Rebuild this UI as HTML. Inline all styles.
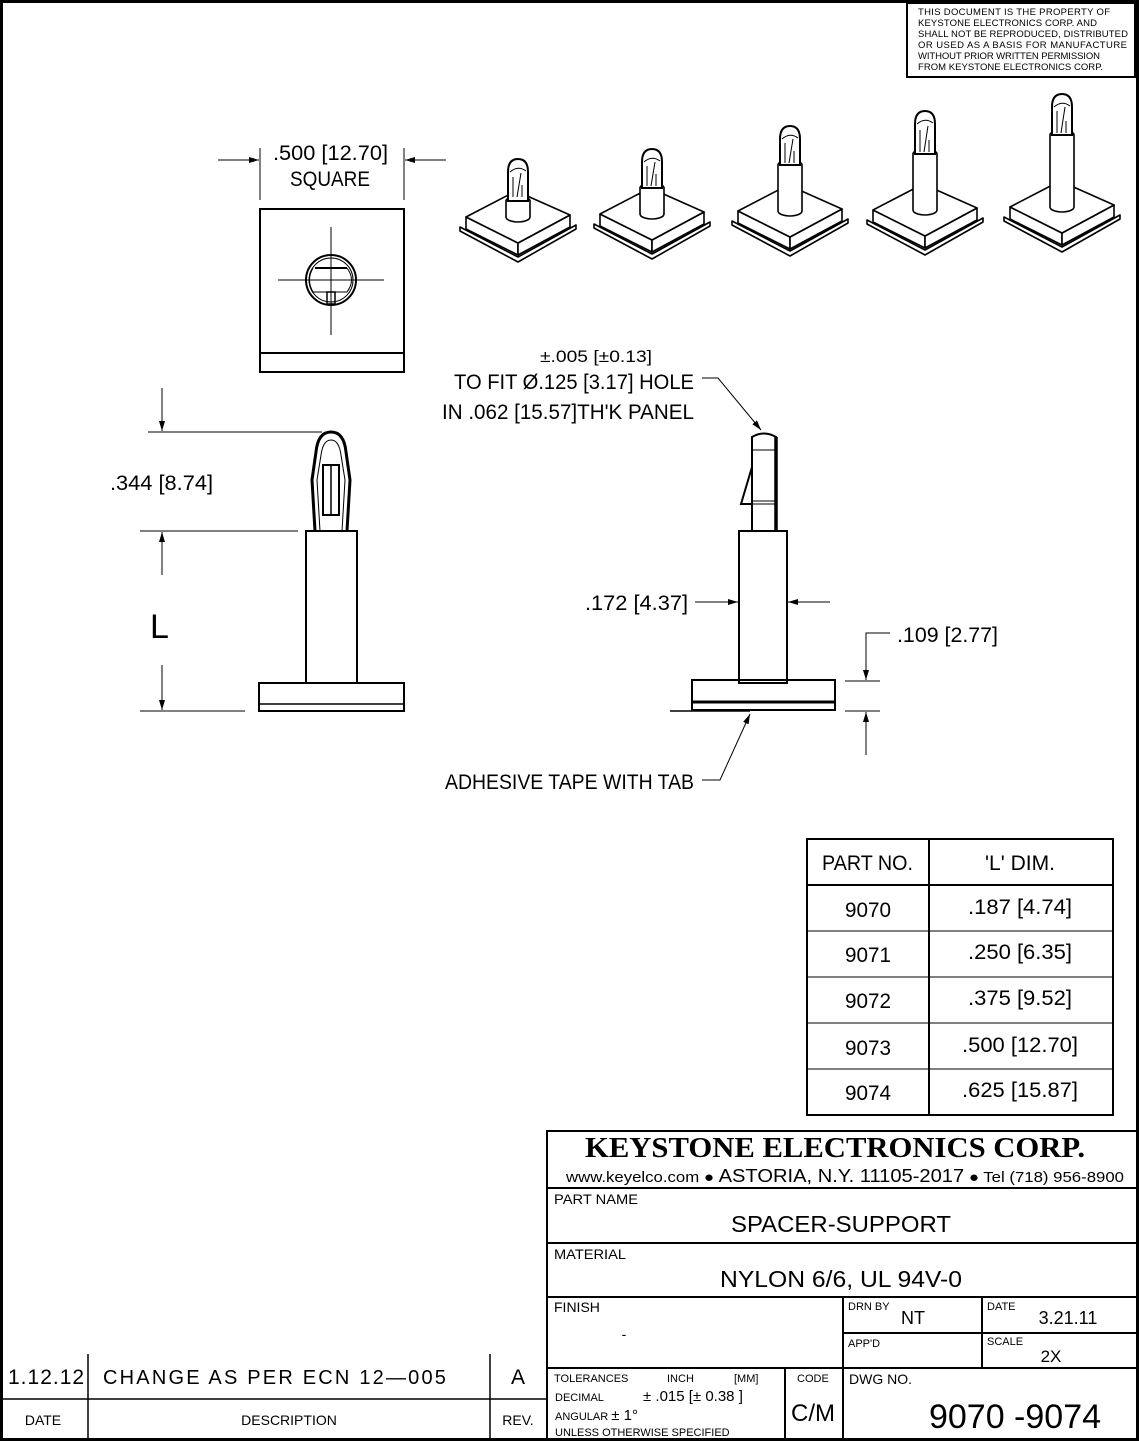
<!DOCTYPE html>
<html><head><meta charset="utf-8"><style>
html,body{margin:0;padding:0;background:#fff}
svg{display:block}
text{font-family:"Liberation Sans",sans-serif;fill:#000}
</style></head><body>
<svg width="1139" height="1441" viewBox="0 0 1139 1441" xmlns="http://www.w3.org/2000/svg">
<defs>
<marker id="ar" viewBox="0 0 10 10" refX="10" refY="5" markerWidth="10" markerHeight="10" markerUnits="userSpaceOnUse" orient="auto"><path d="M0,2 L10,5 L0,8 z" fill="#000"/></marker>
<g id="base" fill="#fff" stroke="#000" stroke-width="1.6" stroke-linejoin="round">
<polygon points="-6,10 52,40 110,8 110,12 52,45 -6,14"/>
<polygon points="0,0 52,26 52,38 0,12"/>
<polygon points="52,26 104,-2 104,10 52,38"/>
<polygon points="0,0 50,-26 104,-2 52,26"/>
</g>
</defs>
<rect x="1.5" y="1.5" width="1136" height="1438" fill="none" stroke="#000" stroke-width="3"/>
<!-- notice -->
<rect x="907" y="3" width="228" height="74" fill="none" stroke="#000" stroke-width="2"/>
<g font-size="9.5">
<text x="918" y="15" textLength="192" lengthAdjust="spacing">THIS DOCUMENT IS THE PROPERTY OF</text>
<text x="918" y="26" textLength="179" lengthAdjust="spacing">KEYSTONE ELECTRONICS CORP. AND</text>
<text x="918" y="37" textLength="210" lengthAdjust="spacing">SHALL NOT BE REPRODUCED, DISTRIBUTED</text>
<text x="918" y="48" textLength="209" lengthAdjust="spacing">OR USED AS A BASIS FOR MANUFACTURE</text>
<text x="918" y="59" textLength="182" lengthAdjust="spacing">WITHOUT PRIOR WRITTEN PERMISSION</text>
<text x="918" y="70" textLength="185" lengthAdjust="spacing">FROM KEYSTONE ELECTRONICS CORP.</text>
</g>
<!-- top view -->
<g stroke="#000" fill="none">
<line x1="260" y1="148" x2="260" y2="200" stroke-width="1"/>
<line x1="404" y1="148" x2="404" y2="200" stroke-width="1"/>
<line x1="218" y1="160" x2="259" y2="160" stroke-width="1" marker-end="url(#ar)"/>
<line x1="446" y1="160" x2="405" y2="160" stroke-width="1" marker-end="url(#ar)"/>
<rect x="260" y="209" width="144" height="163" stroke-width="2"/>
<line x1="260" y1="353" x2="404" y2="353" stroke-width="2"/>
<circle cx="331" cy="280" r="25" stroke-width="2"/>
<circle cx="331" cy="280" r="22" stroke-width="1"/>
<line x1="315" y1="268" x2="347" y2="268" stroke-width="2"/>
<path d="M313,268 Q306,280 313,292 L347,292 Q356,280 347,268" stroke-width="1"/>
<rect x="327" y="292" width="8" height="12" stroke-width="1.5"/>
<line x1="278" y1="280" x2="384" y2="280" stroke-width="1"/>
<line x1="331" y1="227" x2="331" y2="335" stroke-width="1"/>
</g>
<text x="273" y="160" font-size="21" textLength="115" lengthAdjust="spacingAndGlyphs">.500 [12.70]</text>
<text x="290" y="186" font-size="21" textLength="80" lengthAdjust="spacingAndGlyphs">SQUARE</text>
<!-- iso views -->
<g stroke="#000" stroke-width="1.6" fill="#fff">
<g transform="translate(466,217)"><use href="#base"/>
<path d="M40,0 L40,-16 A12,5 0 0 1 64,-16 L64,0 A12,5 0 0 1 40,0 Z"/>
<path d="M42,-16 L42,-45 Q42,-58 52,-58 Q62,-58 62,-45 L62,-16 Z" stroke-width="2"/>
<path d="M47,-20 L47,-40 M51,-20 L55,-44 M56,-20 L56,-32 M44,-45 Q52,-52 60,-46" fill="none" stroke-width="1"/></g>
<g transform="translate(600,214)"><use href="#base"/>
<path d="M40,0 L40,-26 A12,5 0 0 1 64,-26 L64,0 A12,5 0 0 1 40,0 Z"/>
<path d="M42,-26 L42,-52 Q42,-65 52,-65 Q62,-65 62,-52 L62,-26 Z" stroke-width="2"/>
<path d="M47,-28 L47,-48 M51,-28 L55,-52 M56,-28 L56,-40 M44,-52 Q52,-59 60,-53" fill="none" stroke-width="1"/></g>
<g transform="translate(738,211)"><use href="#base"/>
<path d="M40,0 L40,-46 A12,5 0 0 1 64,-46 L64,0 A12,5 0 0 1 40,0 Z"/>
<path d="M42,-46 L42,-72 Q42,-85 52,-85 Q62,-85 62,-72 L62,-46 Z" stroke-width="2"/>
<path d="M47,-48 L47,-68 M51,-48 L55,-72 M56,-48 L56,-60 M44,-72 Q52,-79 60,-73" fill="none" stroke-width="1"/></g>
<g transform="translate(873,210)"><use href="#base"/>
<path d="M40,0 L40,-56 A12,5 0 0 1 64,-56 L64,0 A12,5 0 0 1 40,0 Z"/>
<path d="M42,-56 L42,-86 Q42,-99 52,-99 Q62,-99 62,-86 L62,-56 Z" stroke-width="2"/>
<path d="M47,-58 L47,-80 M51,-58 L55,-84 M56,-58 L56,-70 M44,-86 Q52,-93 60,-87" fill="none" stroke-width="1"/></g>
<g transform="translate(1010,207)"><use href="#base"/>
<path d="M40,0 L40,-72 A12,5 0 0 1 64,-72 L64,0 A12,5 0 0 1 40,0 Z"/>
<path d="M42,-72 L42,-100 Q42,-113 52,-113 Q62,-113 62,-100 L62,-72 Z" stroke-width="2"/>
<path d="M47,-74 L47,-96 M51,-74 L55,-100 M56,-74 L56,-86 M44,-100 Q52,-107 60,-101" fill="none" stroke-width="1"/></g>
</g>
<!-- left side view -->
<g stroke="#000" fill="none">
<line x1="148" y1="432" x2="322" y2="432" stroke-width="1"/>
<line x1="140" y1="531" x2="298" y2="531" stroke-width="1"/>
<line x1="140" y1="711" x2="245" y2="711" stroke-width="1"/>
<line x1="162" y1="388" x2="162" y2="431" stroke-width="1" marker-end="url(#ar)"/>
<line x1="162" y1="575" x2="162" y2="532" stroke-width="1" marker-end="url(#ar)"/>
<line x1="162" y1="665" x2="162" y2="710" stroke-width="1" marker-end="url(#ar)"/>
<path d="M315,531 L312,480 L316,452 Q318,432 331,432 Q344,432 346,452 L350,480 L347,531" stroke-width="3"/>
<path d="M320,531 L317,480 L321,455 Q323,440 331,440 Q339,440 341,455 L345,480 L342,531" stroke-width="1"/>
<rect x="323" y="465" width="16" height="50" stroke-width="2"/>
<line x1="331" y1="465" x2="331" y2="515" stroke-width="1.5"/>
<rect x="306" y="531" width="51" height="152" fill="#fff" stroke-width="2"/>
<rect x="259" y="683" width="145" height="28" stroke-width="2"/>
<line x1="259" y1="704" x2="404" y2="704" stroke-width="1.5"/>
</g>
<text x="110" y="490" font-size="21" textLength="103" lengthAdjust="spacingAndGlyphs">.344 [8.74]</text>
<text x="150" y="638" font-size="34">L</text>
<!-- right side view -->
<g stroke="#000" fill="none">
<path d="M752,531 L752,437 Q764,430 776,437 L776,531" stroke-width="2"/>
<line x1="776" y1="437" x2="776" y2="531" stroke-width="3.5"/>
<line x1="752" y1="450" x2="776" y2="450" stroke-width="1"/>
<line x1="752" y1="501" x2="776" y2="501" stroke-width="1"/>
<line x1="752" y1="504" x2="776" y2="504" stroke-width="1"/>
<path d="M752,467 L741,504 L752,504" stroke-width="2"/>
<rect x="739" y="531" width="48" height="152" fill="#fff" stroke-width="2"/>
<rect x="692" y="680" width="143" height="30" stroke-width="2"/>
<line x1="692" y1="702" x2="835" y2="702" stroke-width="3"/>
<line x1="670" y1="711" x2="750" y2="711" stroke-width="1.5"/>
<line x1="695" y1="602" x2="738" y2="602" stroke-width="1" marker-end="url(#ar)"/>
<line x1="830" y1="602" x2="788" y2="602" stroke-width="1" marker-end="url(#ar)"/>
<line x1="845" y1="681" x2="880" y2="681" stroke-width="1"/>
<line x1="845" y1="711" x2="880" y2="711" stroke-width="1"/>
<polyline points="890,633 866,633 866,680" stroke-width="1" marker-end="url(#ar)"/>
<line x1="866" y1="755" x2="866" y2="712" stroke-width="1" marker-end="url(#ar)"/>
<polyline points="702,378 718,378 761,430" stroke-width="1" marker-end="url(#ar)"/>
<polyline points="702,780 720,780 750,714" stroke-width="1" marker-end="url(#ar)"/>
</g>
<text x="540" y="362" font-size="17" textLength="112" lengthAdjust="spacingAndGlyphs">±.005 [±0.13]</text>
<text x="454" y="389" font-size="21" textLength="240" lengthAdjust="spacingAndGlyphs">TO FIT Ø.125 [3.17] HOLE</text>
<text x="442" y="419" font-size="21" textLength="252" lengthAdjust="spacingAndGlyphs">IN .062 [15.57]TH'K PANEL</text>
<text x="585" y="610" font-size="21" textLength="103" lengthAdjust="spacingAndGlyphs">.172 [4.37]</text>
<text x="897" y="642" font-size="21" textLength="101" lengthAdjust="spacingAndGlyphs">.109 [2.77]</text>
<text x="445" y="789" font-size="21" textLength="249" lengthAdjust="spacingAndGlyphs">ADHESIVE TAPE WITH TAB</text>
<!-- table -->
<g stroke="#000" stroke-width="2" fill="none">
<rect x="807" y="839" width="306" height="276"/>
<line x1="929" y1="839" x2="929" y2="1115"/>
<line x1="807" y1="885" x2="1113" y2="885"/>
<line x1="807" y1="931" x2="1113" y2="931" stroke-width="1"/>
<line x1="807" y1="977" x2="1113" y2="977" stroke-width="1"/>
<line x1="807" y1="1023" x2="1113" y2="1023" stroke-width="1"/>
<line x1="807" y1="1069" x2="1113" y2="1069" stroke-width="1"/>
</g>
<g font-size="21">
<text x="822" y="870" textLength="91" lengthAdjust="spacingAndGlyphs">PART NO.</text><text x="985" y="870" textLength="70" lengthAdjust="spacingAndGlyphs">'L' DIM.</text>
<text x="845" y="917" textLength="46" lengthAdjust="spacingAndGlyphs">9070</text><text x="968" y="914" textLength="104" lengthAdjust="spacingAndGlyphs">.187 [4.74]</text>
<text x="845" y="962" textLength="46" lengthAdjust="spacingAndGlyphs">9071</text><text x="968" y="959" textLength="104" lengthAdjust="spacingAndGlyphs">.250 [6.35]</text>
<text x="845" y="1008" textLength="46" lengthAdjust="spacingAndGlyphs">9072</text><text x="968" y="1005" textLength="104" lengthAdjust="spacingAndGlyphs">.375 [9.52]</text>
<text x="845" y="1055" textLength="46" lengthAdjust="spacingAndGlyphs">9073</text><text x="962" y="1052" textLength="116" lengthAdjust="spacingAndGlyphs">.500 [12.70]</text>
<text x="845" y="1100" textLength="46" lengthAdjust="spacingAndGlyphs">9074</text><text x="962" y="1097" textLength="116" lengthAdjust="spacingAndGlyphs">.625 [15.87]</text>
</g>
<!-- title block -->
<g stroke="#000" fill="none" stroke-width="2">
<rect x="547" y="1131" width="590" height="308"/>
<line x1="547" y1="1188" x2="1137" y2="1188"/>
<line x1="547" y1="1243" x2="1137" y2="1243"/>
<line x1="547" y1="1297" x2="1137" y2="1297"/>
<line x1="547" y1="1368" x2="1137" y2="1368"/>
<line x1="843" y1="1333" x2="1137" y2="1333"/>
<line x1="843" y1="1297" x2="843" y2="1439"/>
<line x1="982" y1="1297" x2="982" y2="1368"/>
<line x1="785" y1="1368" x2="785" y2="1439"/>
</g>
<text x="585" y="1157" font-size="28" font-weight="bold" textLength="500" lengthAdjust="spacingAndGlyphs" style="font-family:'Liberation Serif',serif">KEYSTONE ELECTRONICS CORP.</text>
<text x="566" y="1182" font-size="15" textLength="558" lengthAdjust="spacingAndGlyphs">www.keyelco.com ●  <tspan font-size="18">ASTORIA, N.Y. 11105-2017</tspan>  ●  Tel (718) 956-8900</text>
<text x="554" y="1204" font-size="14" textLength="84" lengthAdjust="spacingAndGlyphs">PART NAME</text>
<text x="731" y="1232" font-size="23" textLength="220" lengthAdjust="spacingAndGlyphs">SPACER-SUPPORT</text>
<text x="554" y="1259" font-size="14" textLength="72" lengthAdjust="spacingAndGlyphs">MATERIAL</text>
<text x="720" y="1287" font-size="23" textLength="242" lengthAdjust="spacingAndGlyphs">NYLON 6/6, UL 94V-0</text>
<text x="554" y="1312" font-size="14">FINISH</text>
<text x="624" y="1339" font-size="14" text-anchor="middle">-</text>
<text x="848" y="1310" font-size="11">DRN BY</text>
<text x="913" y="1324" font-size="18" text-anchor="middle">NT</text>
<text x="987" y="1310" font-size="11">DATE</text>
<text x="1068" y="1324" font-size="18" text-anchor="middle">3.21.11</text>
<text x="848" y="1347" font-size="11">APP'D</text>
<text x="987" y="1345" font-size="11">SCALE</text>
<text x="1051" y="1362" font-size="17" text-anchor="middle">2X</text>
<text x="554" y="1382" font-size="11">TOLERANCES</text>
<text x="667" y="1382" font-size="11">INCH</text>
<text x="734" y="1382" font-size="11">[MM]</text>
<text x="797" y="1382" font-size="11">CODE</text>
<text x="555" y="1401" font-size="11">DECIMAL</text>
<text x="643" y="1401" font-size="15">± .015  [± 0.38 ]</text>
<text x="555" y="1420" font-size="11">ANGULAR  <tspan font-size="15">± 1°</tspan></text>
<text x="555" y="1436" font-size="11">UNLESS OTHERWISE SPECIFIED</text>
<text x="813" y="1421" font-size="24" text-anchor="middle">C/M</text>
<text x="849" y="1384" font-size="14">DWG NO.</text>
<text x="1015" y="1428" font-size="34" text-anchor="middle">9070 -9074</text>
<!-- revision -->
<g stroke="#000" stroke-width="1.5" fill="none">
<line x1="88" y1="1354" x2="88" y2="1439"/>
<line x1="490" y1="1354" x2="490" y2="1439"/>
<line x1="2" y1="1399" x2="547" y2="1399"/>
</g>
<text x="8" y="1384" font-size="21" letter-spacing="1">1.12.12</text>
<text x="103" y="1384" font-size="20" letter-spacing="2.2">CHANGE AS PER ECN 12—005</text>
<text x="518" y="1384" font-size="21" text-anchor="middle">A</text>
<text x="43" y="1425" font-size="14" text-anchor="middle">DATE</text>
<text x="289" y="1425" font-size="14" text-anchor="middle">DESCRIPTION</text>
<text x="518" y="1425" font-size="14" text-anchor="middle">REV.</text>
</svg>
</body></html>
